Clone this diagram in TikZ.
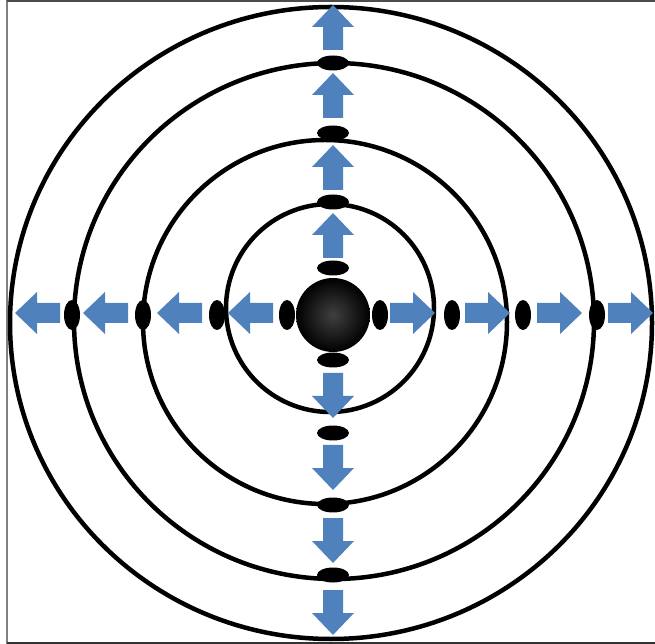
\documentclass[tikz,border=0pt]{standalone}
\usepackage{tikz}
\usetikzlibrary{shapes.geometric}
\definecolor{arrowblue}{HTML}{4F81BD}
\tikzset{
  ring/.style={line width=0.09cm},
  vdot/.style={ellipse, fill=black, inner sep=0pt, minimum width=0.32cm, minimum height=0.6cm},
  hdot/.style={ellipse, fill=black, inner sep=0pt, minimum width=0.64cm, minimum height=0.3cm},
  blockarrow/.pic={\fill[arrowblue] (0,-10) -- (23,-10) -- (23,-21) -- (45,0) -- (23,21) -- (23,10) -- (0,10) -- cycle;}
}

\begin{document}
\begin{tikzpicture}[x=0.02cm, y=-0.02cm]
\useasboundingbox (0,0) rectangle (655,644);
% frame
\draw[gray, line width=0.04cm] (7,0) -- (7,644);
\draw[black!70, line width=0.04cm] (7,1.5) -- (655,1.5);
\draw[black!80, line width=0.04cm] (7,643) -- (655,643);
% rings
\draw[ring] (330,308) circle[radius=104];
\draw[ring] (325,322) circle[radius=182];
\draw[ring] (334,321) ellipse[x radius=260, y radius=258];
\draw[ring] (331,323) ellipse[x radius=321, y radius=316];
% arrows
\foreach \y in {258,190,118,50} \pic[rotate=90] at (333,\y) {blockarrow};
\foreach \y in {373,445,518,590} \pic[rotate=-90] at (333,\y) {blockarrow};
\foreach \x in {273,202,128,60} \pic[rotate=180] at (\x,313) {blockarrow};
\foreach \x in {390,465,537,608} \pic at (\x,313) {blockarrow};
% dots
\foreach \y [count=\i] in {268,202,133,63} \node[hdot] (n\i) at (333,\y) {};
\foreach \y [count=\i] in {360,433,505,575} \node[hdot] (s\i) at (333,\y) {};
\foreach \x [count=\i] in {287,217,143,72} \node[vdot] (w\i) at (\x,315) {};
\foreach \x [count=\i] in {380,452,523,597} \node[vdot] (e\i) at (\x,315) {};
\node[circle, inner sep=0pt, minimum size=1.48cm, inner color=black!75, outer color=black] (core) at (333,315) {};
\end{tikzpicture}
\end{document}
